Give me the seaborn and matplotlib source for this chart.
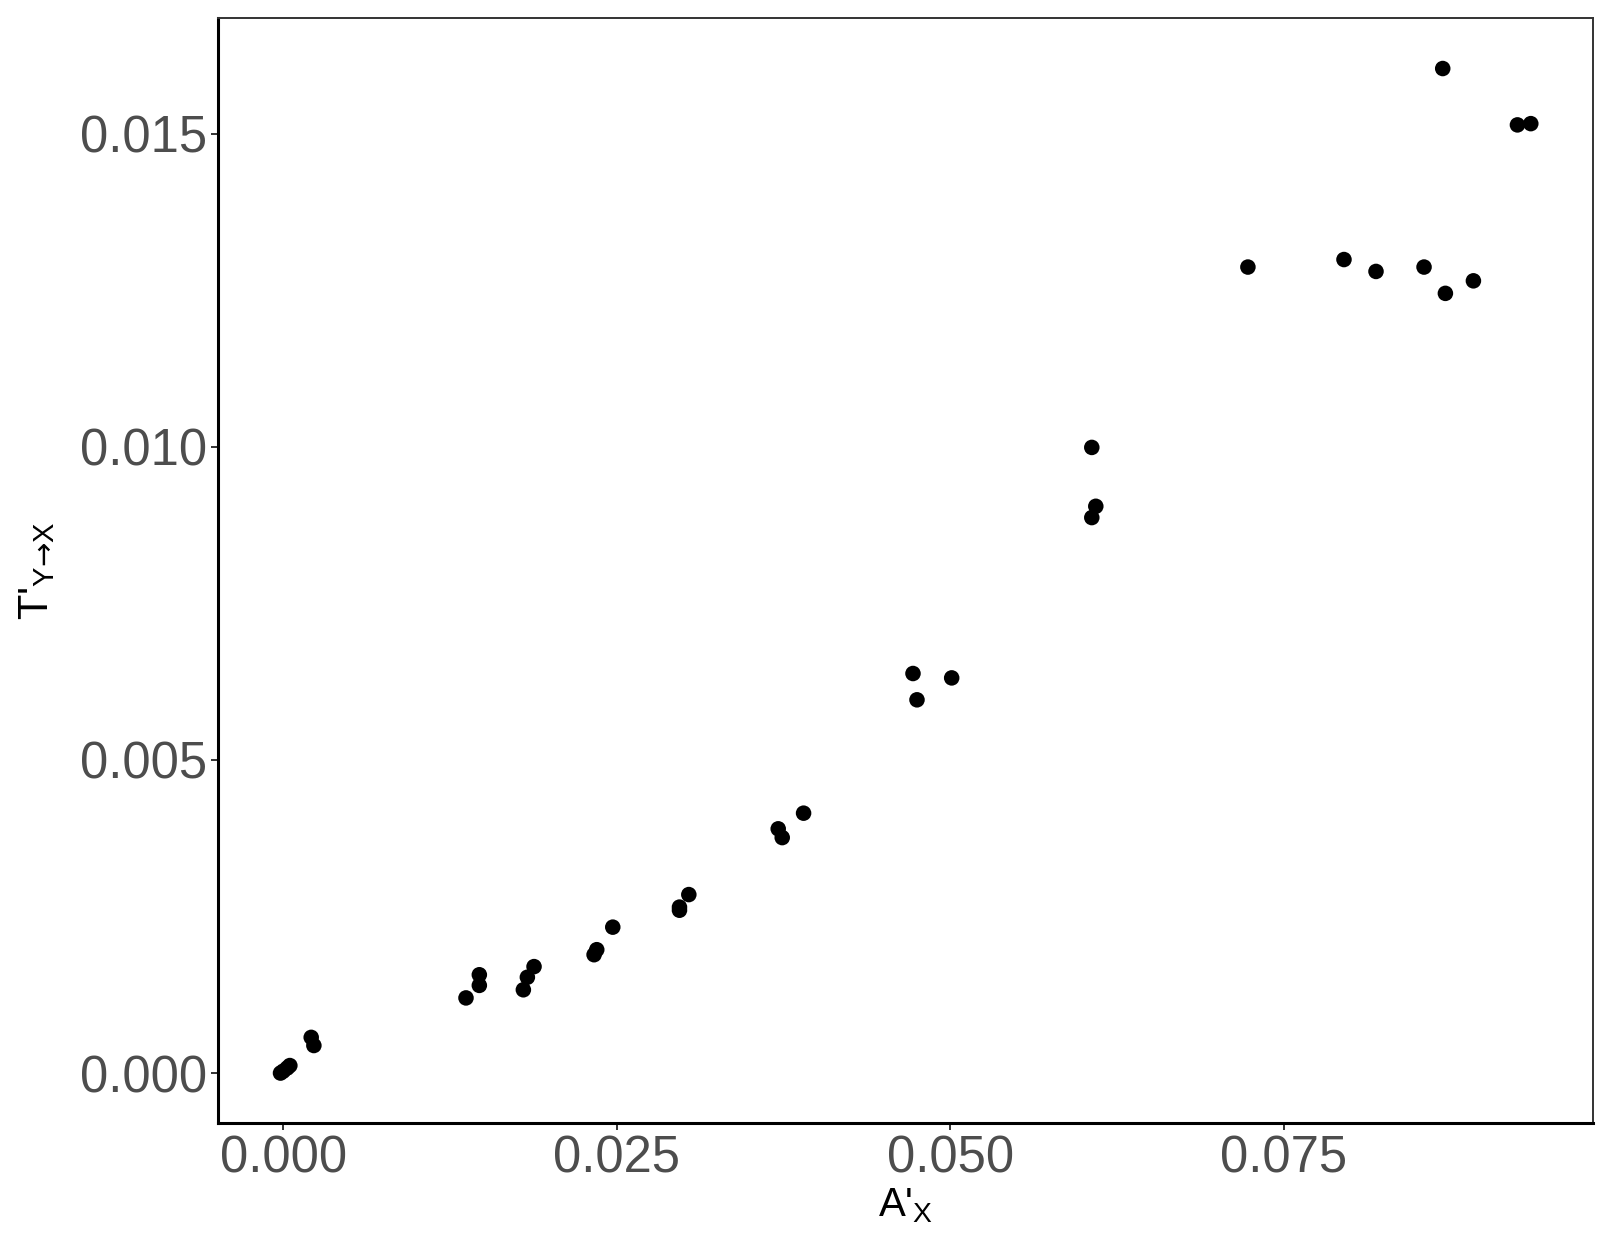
import matplotlib
matplotlib.use("Agg")
import matplotlib.pyplot as plt
import seaborn as sns
import pandas as pd

# Data
a_x = [-0.0002, 0.0000, 0.0003, 0.0005, 0.0021, 0.0023,
       0.0137, 0.0147, 0.0147, 0.0180, 0.0183, 0.0188,
       0.0233, 0.0235, 0.0247, 0.0297, 0.0297, 0.0304,
       0.0371, 0.0374, 0.0390,
       0.0472, 0.0475, 0.0501,
       0.0606, 0.0606, 0.0609,
       0.0723, 0.0795, 0.0819, 0.0855, 0.0869, 0.0871, 0.0892,
       0.0925, 0.0935]
t_yx = [0.00000, 0.00003, 0.00008, 0.00012, 0.00057, 0.00044,
        0.00120, 0.00140, 0.00157, 0.00133, 0.00153, 0.00170,
        0.00189, 0.00197, 0.00233, 0.00260, 0.00265, 0.00285,
        0.00390, 0.00376, 0.00415,
        0.00638, 0.00596, 0.00631,
        0.00999, 0.00887, 0.00905,
        0.01287, 0.01299, 0.01280, 0.01287, 0.01604, 0.01245, 0.01265,
        0.01514, 0.01516]

x_ticks = [0.000, 0.025, 0.050, 0.075]
x_tick_labels = ["0.000", "0.025", "0.050", "0.075"]
y_ticks = [0.000, 0.005, 0.010, 0.015]
y_tick_labels = ["0.000", "0.005", "0.010", "0.015"]

df = pd.DataFrame({"A": a_x, "T": t_yx})

sns.set_theme(style="white")
plt.rcParams["font.family"] = ["Liberation Sans", "DejaVu Sans"]
plt.rcParams["mathtext.fontset"] = "custom"
plt.rcParams["mathtext.rm"] = "Liberation Sans"
plt.rcParams["mathtext.sf"] = "DejaVu Sans"
plt.rcParams["mathtext.default"] = "regular"

fig = plt.figure(figsize=(16.17, 12.41), dpi=100)
ax = fig.add_axes([218 / 1617, 1 - 1123.3 / 1241, (1593.3 - 218) / 1617, (1123.3 - 18.3) / 1241])

sns.scatterplot(data=df, x="A", y="T", ax=ax, color="black", s=125,
                edgecolor="none", linewidth=0, legend=False)

# ggplot-style 5% expansion
xmin, xmax = min(a_x), max(a_x)
ymin, ymax = min(t_yx), max(t_yx)
dx, dy = (xmax - xmin) * 0.05, (ymax - ymin) * 0.05
ax.set_xlim(xmin - dx, xmax + dx)
ax.set_ylim(ymin - dy, ymax + dy)

ax.set_xticks(x_ticks)
ax.set_xticklabels(x_tick_labels)
ax.set_yticks(y_ticks)
ax.set_yticklabels(y_tick_labels)

ax.tick_params(axis="both", which="major", labelsize=36.5, labelcolor="#4D4D4D",
               color="#333333", length=5, width=1.4, direction="out", pad=3,
               bottom=True, left=True)

for side in ["left", "bottom"]:
    ax.spines[side].set_color("black")
    ax.spines[side].set_linewidth(2.2)
for side in ["top", "right"]:
    ax.spines[side].set_color("#333333")
    ax.spines[side].set_linewidth(1.4)
    ax.spines[side].set_visible(True)

ax.set_xlabel("A'$_{X}$", fontsize=29, color="black", labelpad=2)
ax.set_ylabel("T'$_{Y\\mathsf{\u2192}X}$", fontsize=30, color="black", labelpad=16)
ax.grid(False)

fig.savefig("out.png", dpi=100)
